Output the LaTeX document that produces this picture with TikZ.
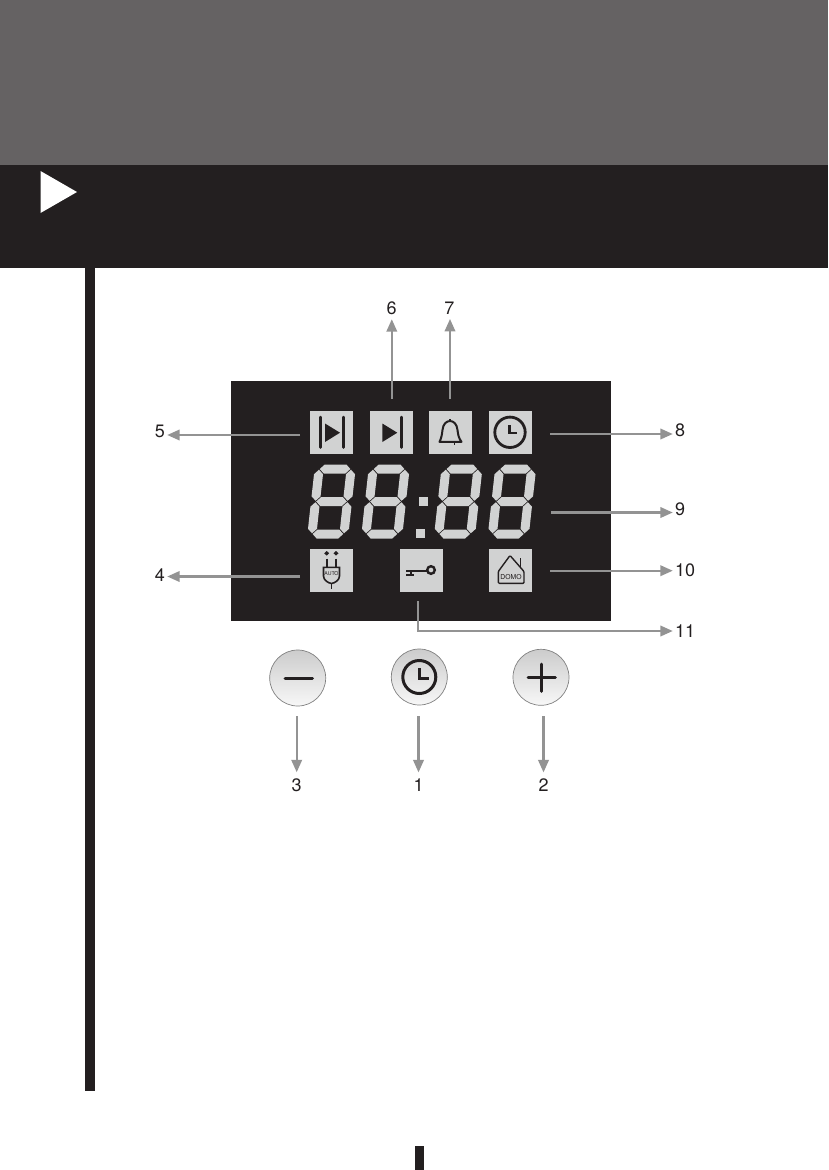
\documentclass[tikz,border=0pt]{standalone}
\usepackage{fontspec}
\setmainfont{TeX Gyre Heros}
\usetikzlibrary{arrows.meta,calc}
\definecolor{ink}{HTML}{231F20}
\definecolor{headgray}{HTML}{656263}
\definecolor{seg}{HTML}{D1D2D2}
\definecolor{arrgray}{HTML}{939393}
\tikzset{
  arr/.style={draw=arrgray,line width=2.2pt,-{Triangle[length=12.5pt,width=10.5pt]}},
  num/.style={font=\fontsize{18}{18}\selectfont,text=ink,inner sep=2pt},
  icon/.style={fill=seg,draw=none,minimum size=43pt,inner sep=0pt,outer sep=0pt},
  ink2/.style={draw=ink,line width=2.5pt,line cap=round},
  btn/.style={circle,minimum size=56pt,inner sep=0pt,draw=black!50,line width=.7pt,top color=black!20,bottom color=black!3},
  segm/.style={fill=seg,draw=none}
}
\newcommand{\lcddigit}[1]{%
  \begin{scope}[shift={(#1,501.5)},xslant=0.11]
    \fill[segm] (-15.3,-32.5)--(-10.8,-37)--(10.8,-37)--(15.3,-32.5)--(10.8,-28)--(-10.8,-28)--cycle;
    \fill[segm] (-15.3,0)--(-10.8,-4.5)--(10.8,-4.5)--(15.3,0)--(10.8,4.5)--(-10.8,4.5)--cycle;
    \fill[segm] (-15.3,32.5)--(-10.8,28)--(10.8,28)--(15.3,32.5)--(10.8,37)--(-10.8,37)--cycle;
    \foreach \sx in {-16,16}{
      \fill[segm] (\sx,-31.8)--($(\sx,-27.3)+(4.5,0)$)--($(\sx,-5.2)+(4.5,0)$)--(\sx,-0.7)--($(\sx,-5.2)+(-4.5,0)$)--($(\sx,-27.3)+(-4.5,0)$)--cycle;
      \fill[segm] (\sx,0.7)--($(\sx,5.2)+(4.5,0)$)--($(\sx,27.3)+(4.5,0)$)--(\sx,31.8)--($(\sx,27.3)+(-4.5,0)$)--($(\sx,5.2)+(-4.5,0)$)--cycle;
    }
  \end{scope}}
\begin{document}
\begin{tikzpicture}[x=1pt,y=-1pt]
\useasboundingbox (0,0) rectangle (828,1170);
% page furniture
\fill[headgray] (0,0) rectangle (828,165);
\fill[ink] (0,165) rectangle (828,268);
\fill[white] (40.5,171) -- (77,192) -- (40.5,213) -- cycle;
\fill[ink] (85,268) rectangle (95,1091);
\fill[ink] (415,1146) rectangle (424,1170);
% display
\fill[ink] (231,381) rectangle (611,621);
% icon tiles
\node[icon] (skipa) at (331.5,432.5) {};
\node[icon] (skipb) at (391.5,432.5) {};
\node[icon] (bell) at (450.5,432.5) {};
\node[icon] (clocka) at (510.5,432.5) {};
\node[icon] (plug) at (331.5,570.5) {};
\node[icon] (key) at (421,570.5) {};
\node[icon] (domo) at (510.5,570.5) {};
% skip icons
\draw[ink2] (320.7,417)--(320.7,447.5) (343.3,417)--(343.3,447.5);
\fill[ink] (325,423.5)--(340,432.7)--(325,442)--cycle;
\draw[ink2] (401.3,417)--(401.3,447.5);
\fill[ink] (382.3,423.5)--(397.3,432.7)--(382.3,442)--cycle;
% bell
\draw[draw=ink,line width=2pt,line join=round] (439.5,441.8) .. controls (441.5,438) and (442,434) .. (442.5,430) .. controls (443,424) and (446.5,421) .. (450,421) .. controls (453.5,421) and (457,424) .. (457.5,430) .. controls (458,434) and (458.5,438) .. (461.5,441.8) -- cycle;
\draw[draw=ink,line width=1.4pt] (450,421)--(450,418.5);
\draw[draw=ink,line width=1.5pt] (454.3,441.8)--(454.3,444.5);
% clock icon
\draw[draw=ink,line width=2.8pt] (510,432.3) circle (15.2);
\draw[draw=ink,line width=2.8pt,line join=miter] (509.3,425)--(509.3,433)--(517,433);
% plug
\fill[ink] (326.7,551)--(329.2,553.3)--(326.7,555.6)--(324.2,553.3)--cycle;
\fill[ink] (336,551)--(338.5,553.3)--(336,555.6)--(333.5,553.3)--cycle;
\draw[draw=ink,line width=1.7pt] (326.7,558.5)--(326.7,567.5) (335.7,558.5)--(335.7,567.5);
\draw[draw=ink,line width=1.6pt] (323.5,567.3)--(339.5,567.3)--(339.5,576) .. controls (339.5,580) and (335,583) .. (331.5,583.5) .. controls (328,583) and (323.5,580) .. (323.5,576) -- cycle;
\draw[draw=ink,line width=1.6pt] (331.5,583.5)--(331.5,588.5);
\node[font=\fontsize{5.2}{5.2}\selectfont,text=ink,inner sep=0pt] (autotxt) at (331.5,573.6) {AUTO};
% key
\draw[draw=ink,line width=2.4pt] (431,570) circle (3.8);
\draw[draw=ink,line width=2.2pt] (406,570.6)--(427,570.6);
\draw[draw=ink,line width=2.4pt] (411,570.6)--(411,574);
\draw[draw=ink,line width=2.6pt] (406,574.8)--(413.5,574.8);
% domo
\draw[draw=ink,line width=1.4pt,line join=round,rounded corners=1pt] (498.3,583.3)--(498.3,571.5)--(510,555.5)--(524,571.5)--(524,583.3)--cycle;
\draw[draw=ink,line width=1.4pt] (520.7,558.3)--(520.7,568);
\node[font=\fontsize{6.8}{6.8}\selectfont,text=ink,inner sep=0pt] (domotxt) at (511,577.3) {DOMO};
% LCD digits
\lcddigit{331.5}
\lcddigit{385.5}
\lcddigit{458.3}
\lcddigit{512}
\fill[seg] (419.3,497) rectangle (428,506);
\fill[seg] (416,529) rectangle (425,538);
% buttons
\node[btn] (bminus) at (297.7,678) {};
\node[btn] (bclock) at (419.3,677) {};
\node[btn] (bplus) at (541,677.3) {};
\draw[draw=ink,line width=3pt,line cap=round] (285,678.3)--(312.5,678.3);
\draw[draw=ink,line width=3pt] (419.3,677) circle (16.5);
\draw[draw=ink,line width=3pt] (419.3,668)--(419.3,678)--(428.5,678);
\draw[draw=ink,line width=2.8pt,line cap=round] (528,677.5)--(555.5,677.5) (541.3,664)--(541.3,691.5);
% labels
\node[num] (n1) at (418.5,785) {1};
\node[num] (n2) at (543.5,785) {2};
\node[num] (n3) at (296.7,785) {3};
\node[num] (n4) at (160,575) {4};
\node[num] (n5) at (160,431) {5};
\node[num] (n6) at (391.7,308.5) {6};
\node[num] (n7) at (449.3,308.5) {7};
\node[num] (n8) at (680,430) {8};
\node[num] (n9) at (680,509) {9};
\node[num] (n10) at (685,570) {10};
\node[num] (n11) at (685,631) {11};
% connector starts
\coordinate (s1) at (418.5,716);
\coordinate (s2) at (543.5,716);
\coordinate (s3) at (296.7,716);
\coordinate (s4) at (300,576.5);
\coordinate (s5) at (300,435);
\coordinate (s6) at (391.8,399);
\coordinate (s7) at (450,399);
\coordinate (s8) at (550,434);
\coordinate (s9) at (551,512.5);
\coordinate (s10) at (550,570.7);
\coordinate (s11) at (418,601);
\coordinate (e11) at (418,631);
% connectors
\draw[arr,shorten >=4pt] (s1) -- (s1 |- n1.north);
\draw[arr,shorten >=4pt] (s2) -- (s2 |- n2.north);
\draw[arr,shorten >=4pt] (s3) -- (s3 |- n3.north);
\draw[arr] (s4) -- (s4 -| n4.east);
\draw[arr] (s5) -- (s5 -| n5.east);
\draw[arr,shorten >=2pt] (s6) -- (s6 |- n6.south);
\draw[arr,shorten >=2pt] (s7) -- (s7 |- n7.south);
\draw[arr] (s8) -- (s8 -| n8.west);
\draw[arr] (s9) -- (s9 -| n9.west);
\draw[arr] (s10) -- (s10 -| n10.west);
\draw[arr] (s11) -- (e11) -- (e11 -| n11.west);
\end{tikzpicture}
\end{document}
